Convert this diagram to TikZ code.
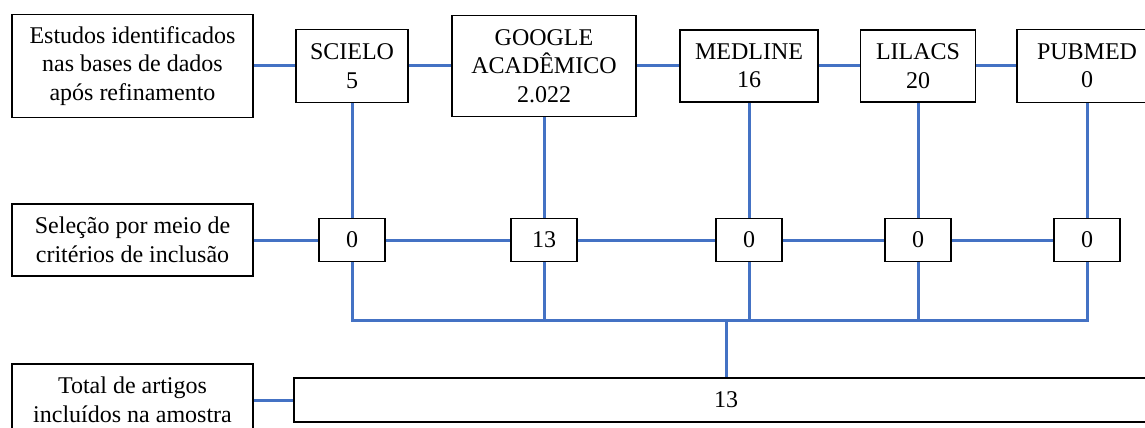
\documentclass[tikz,border=0pt]{standalone}
\usepackage{fontspec}
\setmainfont{Liberation Serif}
\definecolor{linkblue}{HTML}{4472C4}
\begin{document}
\begin{tikzpicture}[x=1pt,y=-1pt,
    box/.style={draw,fill=white,line width=1.8pt,align=center,inner sep=0pt,
      font=\fontsize{24}{28.5}\selectfont},
    link/.style={draw=linkblue,line width=3pt}]
    \useasboundingbox (0,0) rectangle (1145,428);
    \clip (0,0) rectangle (1145,428);
    \pgfmathsetmacro{\ytop}{66}
    \pgfmathsetmacro{\ymid}{240}
    % left hand labels
    \node[box,minimum width=241,minimum height=103] (found) at (132.5,\ytop) {Estudos identificados\\nas bases de dados\\após refinamento};
    \node[box,minimum width=241,minimum height=72] (select) at (132.5,\ymid) {Seleção por meio de\\critérios de inclusão};
    \node[box,minimum width=241,minimum height=72] (sample) at (132.5,400) {Total de artigos\\incluídos na amostra};
    % databases
    \node[box,minimum width=112,minimum height=73] (scielo) at (352,\ytop) {SCIELO\\5};
    \node[box,minimum width=184,minimum height=101] (google) at (544,\ytop) {GOOGLE\\ACADÊMICO\\2.022};
    \node[box,minimum width=138,minimum height=72] (medline) at (749,\ytop) {MEDLINE\\16};
    \node[box,minimum width=115,minimum height=72] (lilacs) at (918,\ytop) {LILACS\\20};
    \node[box,minimum width=140,minimum height=73] (pubmed) at (1087,\ytop) {PUBMED\\0};
    % after inclusion criteria
    \node[box,minimum width=66,minimum height=43] (sscielo) at (352,\ymid) {0};
    \node[box,minimum width=66,minimum height=43] (sgoogle) at (544,\ymid) {13};
    \node[box,minimum width=66,minimum height=43] (smedline) at (749,\ymid) {0};
    \node[box,minimum width=66,minimum height=43] (slilacs) at (918,\ymid) {0};
    \node[box,minimum width=66,minimum height=43] (spubmed) at (1087,\ymid) {0};
    % total
    \node[box,minimum width=864,minimum height=44] (total) at (726,400) {13};
    \coordinate (bus) at (726,320);
    % connectors
    \draw[link] (found) -- (scielo) -- (google) -- (medline) -- (lilacs) -- (pubmed);
    \draw[link] (select) -- (sscielo) -- (sgoogle) -- (smedline) -- (slilacs) -- (spubmed);
    \foreach \db in {scielo,google,medline,lilacs,pubmed}
      \draw[link] (\db.south) -- (s\db.north);
    \draw[link] (sscielo.south) |- (spubmed.south |- bus) -- (spubmed.south);
    \foreach \db in {google,medline,lilacs}
      \draw[link] (s\db.south) -- (s\db.south |- bus);
    \draw[link] (bus) -- (total.north);
    \draw[link] (sample) -- (total);
  \end{tikzpicture}
\end{document}
